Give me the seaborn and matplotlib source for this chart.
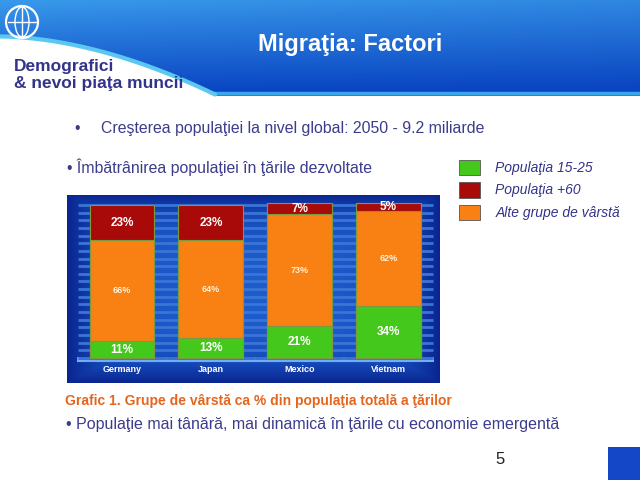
import numpy as np
import pandas as pd
import matplotlib
matplotlib.use("Agg")
import matplotlib.pyplot as plt
from matplotlib.patches import Patch, Rectangle, Circle, Ellipse
from matplotlib.colors import LinearSegmentedColormap
import seaborn as sns

# data
countries = ["Germany", "Japan", "Mexico", "Vietnam"]
young = [11, 13, 21, 34]      # Populaţia 15-25
middle = [66, 64, 73, 62]     # Alte grupe de vârstă
old = [23, 23, 7, 5]          # Populaţia +60

legend_labels = ["Populaţia 15-25", "Populaţia +60", "Alte grupe de vârstă"]

df = pd.DataFrame({"country": countries, "young": young, "middle": middle, "old": old})
df["top_middle"] = df["young"] + df["middle"]
df["top_old"] = df["top_middle"] + df["old"]

GREEN = "#45c81c"
ORANGE = "#f98012"
RED = "#a80a0a"
NAVY_TXT = "#33338a"
BULLET_TXT = "#3c3c8c"

sns.set_theme(style="white")
plt.rcParams["font.family"] = ["Liberation Sans", "DejaVu Sans"]

fig = plt.figure(figsize=(6.4, 4.8), dpi=100)
fig.patch.set_facecolor("white")

# ---- header band ----
axh = fig.add_axes([0, 1 - 100 / 480, 1, 100 / 480])
axh.set_xlim(0, 640)
axh.set_ylim(100, 0)
axh.axis("off")
yy = np.linspace(0, 1, 60)[:, None]
xx = np.linspace(0, 1, 200)[None, :]
top = np.array([0.22, 0.60, 0.92])
bot = np.array([0.03, 0.26, 0.76])
img = top * (1 - yy[..., None]) + bot * yy[..., None]
img = img * (1 - 0.18 * xx[..., None]) + np.array([0.02, 0.2, 0.7]) * 0.18 * xx[..., None]
axh.imshow(np.clip(img, 0, 1), extent=[0, 640, 96, 0], aspect="auto", zorder=0)
cx = np.linspace(0, 215, 100)
cy = 38 + 58 * (cx / 215) ** 1.8
axh.fill_between(cx, cy, 100, color="white", zorder=2)
axh.fill_between([215, 640], 96, 100, color="white", zorder=2)
axh.plot(cx, cy - 1.5, color="#5cc8f2", lw=3, zorder=3)
axh.plot([150, 640], [93, 93], color="#3aa6ec", lw=2.5, zorder=1)
axh.add_patch(Circle((22, 22), 16, fill=False, ec="white", lw=1.6, zorder=4))
axh.add_patch(Ellipse((22, 22), 14, 30, fill=False, ec="white", lw=1, zorder=4))
axh.plot([8, 36], [22, 22], color="white", lw=1, zorder=4)
axh.plot([22, 22], [7, 37], color="white", lw=1, zorder=4)
axh.text(350, 44, "Migraţia: Factori", color="white", fontsize=17, fontweight="bold",
         ha="center", va="center", zorder=5)
axh.text(14, 75, "Demografici\n& nevoi piaţa muncii", color=NAVY_TXT, fontsize=12.5,
         fontweight="bold", ha="left", va="center", linespacing=1.2, zorder=5)

# ---- slide texts ----
fig.text(74 / 640, 1 - 128 / 480, "•", color=BULLET_TXT, fontsize=11.4, va="center")
fig.text(101 / 640, 1 - 128 / 480, "Creşterea populaţiei la nivel global: 2050 - 9.2 miliarde",
         color=BULLET_TXT, fontsize=11.4, va="center")
fig.text(67 / 640, 1 - 167 / 480, "• Îmbătrânirea populaţiei în ţările dezvoltate",
         color=BULLET_TXT, fontsize=11.4, va="center")
fig.text(65 / 640, 1 - 401 / 480, "Grafic 1. Grupe de vârstă ca % din populaţia totală a ţărilor",
         color="#e4661e", fontsize=10, fontweight="bold", va="center")
fig.text(66 / 640, 1 - 424 / 480, "• Populaţie mai tânără, mai dinamică în ţările cu economie emergentă",
         color=BULLET_TXT, fontsize=11.5, va="center")
fig.text(500 / 640, 1 - 459 / 480, "5", color="#222222", fontsize=12, ha="center", va="center")
fig.add_artist(Rectangle((608 / 640, 0), 32 / 640, 33 / 480, transform=fig.transFigure,
                         facecolor="#1446c8", edgecolor="none"))

# ---- chart panel ----
ax = fig.add_axes([67 / 640, 1 - 383 / 480, 373 / 640, 188 / 480])

# panel background gradient
gx = np.linspace(-1, 1, 200)[None, :]
gy = np.linspace(-1, 1, 120)[:, None]
r = np.clip(np.maximum(np.abs(gx) ** 3, np.abs(gy) ** 3), 0, 1)
panel_cmap = LinearSegmentedColormap.from_list("panel", ["#1d5ccc", "#1548b8", "#0a2590"])
ax.imshow(r, cmap=panel_cmap, extent=[0, 1, 0, 1], transform=ax.transAxes,
          aspect="auto", zorder=0)

ax.hlines(np.arange(0, 101, 5), -0.5, 3.5, color="#3b74d6", lw=2, zorder=1)

bar_kw = dict(width=0.73, saturation=1, edgecolor="#7c9a3c", linewidth=0.8, ax=ax)
sns.barplot(data=df, x="country", y="top_old", color=RED, zorder=2, **bar_kw)
sns.barplot(data=df, x="country", y="top_middle", color=ORANGE, zorder=3, **bar_kw)
sns.barplot(data=df, x="country", y="young", color=GREEN, zorder=4, **bar_kw)
ax.set_xlim(-0.62, 3.58)
ax.set_ylim(-16.3, 106.5)

for i, row in df.iterrows():
    ax.text(i, row["young"] / 2, f"{row['young']}%", color="white", fontsize=8.5,
            fontweight="bold", ha="center", va="center", zorder=6)
    ax.text(i, row["young"] + row["middle"] / 2, f"{row['middle']}%", color="#fff0d8",
            fontsize=6.5, fontweight="bold", ha="center", va="center", zorder=6)
    ax.text(i, row["top_middle"] + row["old"] / 2, f"{row['old']}%", color="white",
            fontsize=8.5, fontweight="bold", ha="center", va="center", zorder=6)

ax.set_xlabel("")
ax.set_ylabel("")
ax.set_yticks([])
for s in ["top", "left", "right"]:
    ax.spines[s].set_visible(False)
ax.spines["bottom"].set_position(("data", -2))
ax.spines["bottom"].set_bounds(-0.5, 3.5)
ax.spines["bottom"].set_color("#6fb0f4")
ax.spines["bottom"].set_linewidth(1.5)
ax.spines["bottom"].set_zorder(5)
ax.set_xticks(np.arange(-0.5, 3.6, 1), minor=True)
ax.tick_params(axis="x", which="major", length=0, pad=3, labelsize=6.5, labelcolor="white")
ax.tick_params(axis="x", which="minor", direction="in", length=3, width=1.2, color="#6fb0f4",
               bottom=True)
for lab in ax.get_xticklabels():
    lab.set_fontweight("bold")

# ---- legend ----
handles = [Patch(facecolor=c, edgecolor="#555555", linewidth=0.6) for c in [GREEN, RED, ORANGE]]
leg = fig.legend(handles, legend_labels, loc="upper left",
                 bbox_to_anchor=(446 / 640, 1 - 147 / 480), frameon=False,
                 handlelength=1.55, handleheight=1.35, labelspacing=0.5, handletextpad=1.1,
                 prop={"size": 10, "style": "italic"})
for t in leg.get_texts():
    t.set_color(NAVY_TXT)

fig.savefig("out.png", dpi=100)
